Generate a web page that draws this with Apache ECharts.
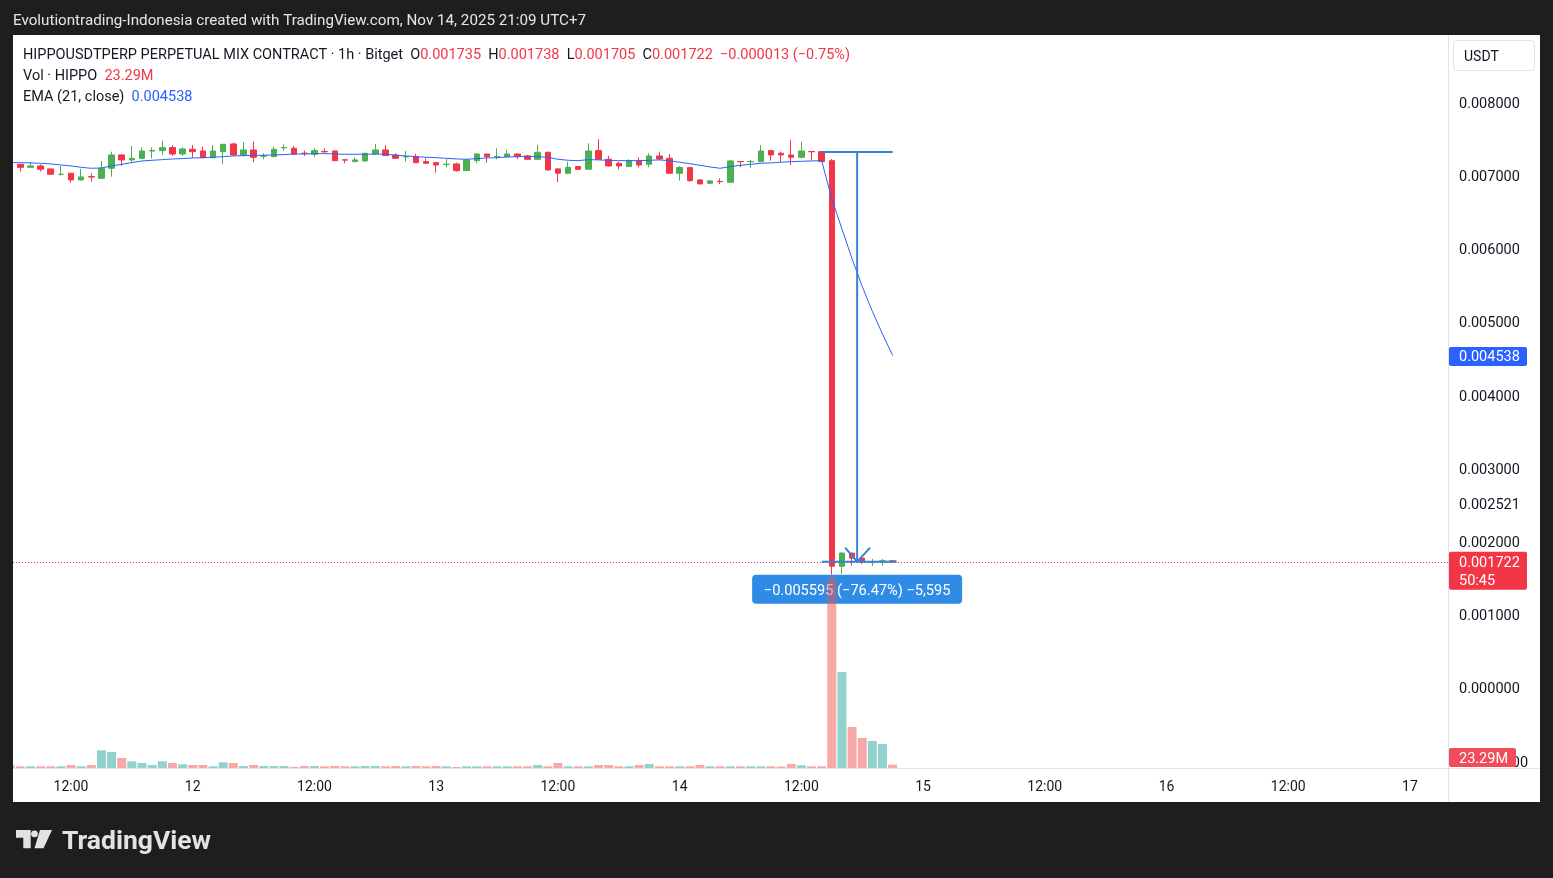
<!DOCTYPE html>
<html><head><meta charset="utf-8">
<script src="https://cdn.jsdelivr.net/npm/echarts@6/dist/echarts.min.js"></script>
<style>
html,body{margin:0;padding:0;background:#1e1e1e;overflow:hidden;}
#panel{position:absolute;left:13px;top:35px;width:1527px;height:767px;background:#ffffff;}
#c{position:absolute;left:0;top:0;width:1553px;height:878px;}
#edge{position:absolute;left:0;top:35px;width:13px;height:767px;background:#1e1e1e;}
</style>
</head><body><div id="panel"></div><div id="c"></div><div id="edge"></div>
<script>
// ---- DATA ----
const times = [
 '2025-11-11 06:00','2025-11-11 07:00','2025-11-11 08:00','2025-11-11 09:00','2025-11-11 10:00','2025-11-11 11:00',
 '2025-11-11 12:00','2025-11-11 13:00','2025-11-11 14:00','2025-11-11 15:00','2025-11-11 16:00','2025-11-11 17:00',
 '2025-11-11 18:00','2025-11-11 19:00','2025-11-11 20:00','2025-11-11 21:00','2025-11-11 22:00','2025-11-11 23:00',
 '2025-11-12 00:00','2025-11-12 01:00','2025-11-12 02:00','2025-11-12 03:00','2025-11-12 04:00','2025-11-12 05:00',
 '2025-11-12 06:00','2025-11-12 07:00','2025-11-12 08:00','2025-11-12 09:00','2025-11-12 10:00','2025-11-12 11:00',
 '2025-11-12 12:00','2025-11-12 13:00','2025-11-12 14:00','2025-11-12 15:00','2025-11-12 16:00','2025-11-12 17:00',
 '2025-11-12 18:00','2025-11-12 19:00','2025-11-12 20:00','2025-11-12 21:00','2025-11-12 22:00','2025-11-12 23:00',
 '2025-11-13 00:00','2025-11-13 01:00','2025-11-13 02:00','2025-11-13 03:00','2025-11-13 04:00','2025-11-13 05:00',
 '2025-11-13 06:00','2025-11-13 07:00','2025-11-13 08:00','2025-11-13 09:00','2025-11-13 10:00','2025-11-13 11:00',
 '2025-11-13 12:00','2025-11-13 13:00','2025-11-13 14:00','2025-11-13 15:00','2025-11-13 16:00','2025-11-13 17:00',
 '2025-11-13 18:00','2025-11-13 19:00','2025-11-13 20:00','2025-11-13 21:00','2025-11-13 22:00','2025-11-13 23:00',
 '2025-11-14 00:00','2025-11-14 01:00','2025-11-14 02:00','2025-11-14 03:00','2025-11-14 04:00','2025-11-14 05:00',
 '2025-11-14 06:00','2025-11-14 07:00','2025-11-14 08:00','2025-11-14 09:00','2025-11-14 10:00','2025-11-14 11:00',
 '2025-11-14 12:00','2025-11-14 13:00','2025-11-14 14:00','2025-11-14 15:00','2025-11-14 16:00','2025-11-14 17:00',
 '2025-11-14 18:00','2025-11-14 19:00','2025-11-14 20:00','2025-11-14 21:00'
];
// [open, high, low, close]
const ohlc = [
 // Nov 11
 [0.007165,0.007180,0.007120,0.007145],[0.007149,0.007158,0.007049,0.007108],[0.007108,0.007177,0.007095,0.007127],
 [0.007127,0.007149,0.007049,0.007081],[0.007086,0.007090,0.007010,0.007013],[0.007010,0.007127,0.006995,0.007013],
 [0.007027,0.007030,0.006899,0.006936],[0.006936,0.007086,0.006926,0.006977],[0.006981,0.007027,0.006913,0.006975],
 [0.006958,0.007195,0.006955,0.007095],[0.007095,0.007322,0.006981,0.007277],[0.007277,0.007286,0.007127,0.007209],
 [0.007209,0.007400,0.007177,0.007231],[0.007231,0.007381,0.007222,0.007331],[0.007331,0.007381,0.007231,0.007336],
 [0.007336,0.007472,0.007277,0.007377],[0.007377,0.007413,0.007263,0.007290],[0.007290,0.007381,0.007263,0.007359],
 // Nov 12
 [0.007354,0.007413,0.007240,0.007322],[0.007331,0.007390,0.007231,0.007240],[0.007240,0.007413,0.007231,0.007331],
 [0.007322,0.007427,0.007149,0.007422],[0.007427,0.007445,0.007263,0.007277],[0.007277,0.007450,0.007254,0.007345],
 [0.007345,0.007459,0.007177,0.007245],[0.007260,0.007300,0.007218,0.007263],[0.007254,0.007390,0.007245,0.007354],
 [0.007375,0.007422,0.007336,0.007377],[0.007368,0.007400,0.007277,0.007290],[0.007300,0.007336,0.007263,0.007298],
 [0.007286,0.007368,0.007245,0.007336],[0.007325,0.007368,0.007300,0.007320],[0.007331,0.007336,0.007195,0.007199],
 [0.007210,0.007222,0.007163,0.007207],[0.007186,0.007245,0.007177,0.007209],[0.007195,0.007300,0.007186,0.007300],
 [0.007290,0.007427,0.007277,0.007345],[0.007345,0.007413,0.007268,0.007268],[0.007277,0.007300,0.007222,0.007231],
 [0.007250,0.007331,0.007186,0.007254],[0.007254,0.007290,0.007172,0.007172],[0.007186,0.007231,0.007154,0.007163],
 // Nov 13
 [0.007172,0.007172,0.007036,0.007140],[0.007147,0.007222,0.007108,0.007150],[0.007154,0.007172,0.007049,0.007063],
 [0.007063,0.007218,0.007063,0.007209],[0.007199,0.007300,0.007163,0.007290],[0.007290,0.007290,0.007172,0.007254],
 [0.007252,0.007368,0.007218,0.007256],[0.007254,0.007345,0.007245,0.007290],[0.007290,0.007300,0.007218,0.007254],
 [0.007263,0.007277,0.007209,0.007218],[0.007218,0.007413,0.007209,0.007313],[0.007313,0.007322,0.007063,0.007072],
 [0.007086,0.007095,0.006904,0.007027],[0.007027,0.007186,0.007013,0.007108],[0.007118,0.007127,0.007072,0.007081],
 [0.007081,0.007436,0.007081,0.007331],[0.007336,0.007491,0.007218,0.007218],[0.007218,0.007263,0.007118,0.007127],
 [0.007163,0.007186,0.007081,0.007127],[0.007118,0.007218,0.007118,0.007199],[0.007195,0.007245,0.007108,0.007140],
 [0.007149,0.007300,0.007108,0.007263],[0.007263,0.007322,0.007209,0.007222],[0.007231,0.007290,0.007027,0.007027],
 // Nov 14
 [0.007027,0.007127,0.006926,0.007104],[0.007104,0.007108,0.006913,0.006926],[0.006936,0.006945,0.006881,0.006881],
 [0.006890,0.006936,0.006881,0.006922],[0.006915,0.006958,0.006881,0.006911],[0.006904,0.007209,0.006904,0.007195],
 [0.007188,0.007188,0.007108,0.007184],[0.007184,0.007209,0.007095,0.007188],[0.007186,0.007413,0.007177,0.007331],
 [0.007336,0.007345,0.007199,0.007277],[0.007300,0.007322,0.007177,0.007277],[0.007277,0.007481,0.007140,0.007245],
 [0.007245,0.007459,0.007231,0.007331],[0.007324,0.007324,0.007199,0.007320],[0.007322,0.007322,0.007186,0.007186],
 [0.007199,0.007220,0.001545,0.001660],[0.001660,0.001850,0.001556,0.001839],[0.001839,0.001845,0.001666,0.001771],
 [0.001771,0.001780,0.001689,0.001716],[0.001716,0.001760,0.001660,0.001722],[0.001720,0.001760,0.001665,0.001735],
 [0.001735,0.001738,0.001705,0.001722]
];
// volume, millions of HIPPO
const volume = [
 19,12,12,12,12,12,21,12,21,124,112,70,47,35,21,47,35,26,
 21,21,12,40,35,14,21,14,14,14,7,14,14,12,14,12,12,14,14,12,14,12,14,12,
 14,12,7,12,12,12,12,12,12,12,21,12,35,12,12,12,21,21,12,12,21,28,12,12,
 12,12,21,12,12,12,12,12,12,12,10,28,19,12,12,1330,672,287,210,189,168,23.29
];
// EMA(21, close)
const ema = [
 0.007172,0.007172,0.007168,0.007163,0.007154,0.007140,0.007127,0.007108,0.007095,0.007099,0.007127,0.007149,
 0.007172,0.007195,0.007204,0.007213,0.007222,0.007227,
 0.007236,0.007240,0.007245,0.007254,0.007263,0.007268,0.007272,0.007272,0.007277,0.007281,0.007290,0.007290,
 0.007295,0.007295,0.007290,0.007286,0.007286,0.007286,0.007290,0.007286,0.007272,0.007263,0.007254,0.007245,
 0.007240,0.007231,0.007222,0.007218,0.007227,0.007236,0.007240,0.007249,0.007254,0.007259,0.007254,0.007245,
 0.007218,0.007204,0.007199,0.007213,0.007209,0.007204,0.007199,0.007199,0.007199,0.007204,0.007209,0.007199,
 0.007177,0.007158,0.007136,0.007113,0.007095,0.007118,0.007136,0.007149,0.007163,0.007168,0.007177,0.007186,
 0.007190,0.007195,0.007199,0.006680,0.006267,0.005858,0.005482,0.005141,0.004831,0.004538
];
const priceTicks = [-0.001,0,0.001,0.002,0.003,0.004,0.005,0.006,0.007,0.008];
const extraPriceLabels = [0.002521];
const timeTickValues = [12,24,36,48,60,72,84,96,108,120,132,144];
const timeTickLabels = ['12:00','12','12:00','13','12:00','14','12:00','15','12:00','16','12:00','17'];
const measureFrom = '2025-11-14 14:00';
const measureTo = '2025-11-14 21:00';
const measureTop = 0.007317;
const measureBottom = 0.001722;
const measureText = '−0.005595 (−76.47%) −5,595';
const countdown = '50:45';

// ---- helpers ----
function hoursOf(t){ const d=+t.slice(8,10), h=+t.slice(11,13); return (d-11)*24+h; }
const xs = times.map(hoursOf);
const X_MIN = 6.28, X_MAX = 147.75;
const UP='#4caf50', DOWN='#f23645';
const VUP='rgba(38,166,154,0.5)', VDOWN='rgba(239,83,80,0.5)';
const FONT='Roboto, "Noto Sans", sans-serif';
const fmtP = v => (v<0?'−':'') + Math.abs(v).toFixed(6);

const candleData = ohlc.map((r,i)=>[xs[i], r[0], r[3], r[2], r[1]]);
const volData = volume.map((v,i)=>({value:[xs[i], v], itemStyle:{color: ohlc[i][3] >= ohlc[i][0] ? VUP : VDOWN}}));
const emaData = ema.map((v,i)=>[xs[i], v]);
const last = ohlc[ohlc.length-1];

const chart = echarts.init(document.getElementById('c'), null, {renderer:'canvas'});
chart.setOption({
  animation:false,
  backgroundColor:'transparent',
  grid:[
    {left:13, right:105, top:102, bottom:117},
    {left:13, right:105, top:568, bottom:110}
  ],
  xAxis:[
    {type:'value', gridIndex:0, min:X_MIN, max:X_MAX, show:false},
    {type:'value', gridIndex:1, min:X_MIN, max:X_MAX,
     axisLine:{show:false}, axisTick:{show:false}, splitLine:{show:false},
     axisLabel:{customValues:timeTickValues, margin:12, color:'#131722', fontSize:14, fontFamily:FONT,
       formatter:v=>{const k=timeTickValues.indexOf(Math.round(v)); return k>=0?timeTickLabels[k]:'';}}}
  ],
  yAxis:[
    {type:'value', gridIndex:0, position:'right', min:-0.001, max:0.008,
     axisLine:{show:false}, axisTick:{show:false}, splitLine:{show:false},
     axisLabel:{customValues:priceTicks.concat(extraPriceLabels), align:'left', margin:11, color:'#131722',
       fontSize:14.5, fontFamily:FONT, formatter:v=>'{a|'+fmtP(v)+'}',
       rich:{a:{fontSize:14.5, fontFamily:FONT, color:'#131722', padding:[4,0,0,0]}}}},
    {type:'value', gridIndex:1, min:0, max:1400, show:false}
  ],
  series:[
    {type:'bar', name:'Vol', xAxisIndex:1, yAxisIndex:1, data:volData, barWidth:9, z:3, clip:true},
    {type:'candlestick', name:'HIPPO', xAxisIndex:0, yAxisIndex:0, data:candleData,
     encode:{x:0, y:[1,2,3,4]}, barWidth:6, z:4, clip:true,
     itemStyle:{color:UP, color0:DOWN, borderColor:UP, borderColor0:DOWN, borderWidth:1}},
    {type:'line', name:'EMA', xAxisIndex:0, yAxisIndex:0, data:emaData, symbol:'none', clip:true,
     lineStyle:{color:'#2962ff', width:1}, z:5}
  ]
});

function px(x,y){ return chart.convertToPixel({gridIndex:0},[x,y]); }
const gLeft=13, gRight=1448, paneBottom=768;
const g = [];
// separators
g.push({type:'line', shape:{x1:gRight+0.5,y1:35,x2:gRight+0.5,y2:802}, style:{stroke:'#e0e3eb',lineWidth:1}, z:50});
g.push({type:'line', shape:{x1:13,y1:paneBottom+0.5,x2:1540,y2:paneBottom+0.5}, style:{stroke:'#e0e3eb',lineWidth:1}, z:50});
// current price dotted line
const yC = px(X_MAX, last[3])[1];
g.push({type:'line', shape:{x1:gLeft,y1:Math.round(yC)+0.5,x2:gRight,y2:Math.round(yC)+0.5}, style:{stroke:DOWN,lineWidth:1,lineDash:[1,2]}, z:10});
// header
g.push({type:'text', style:{x:13,y:21,text:'Evolutiontrading-Indonesia created with TradingView.com, Nov 14, 2025 21:09 UTC+7',
  fill:'#e6e6e6', font:'15.2px '+FONT, verticalAlign:'middle'}, z:60});
// legend lines
const LF='14.5px '+FONT;
const SP='  ';
g.push({type:'text', style:{x:23,y:55,verticalAlign:'middle', font:LF, fill:'#131722',
  text:'{b|HIPPOUSDTPERP PERPETUAL MIX CONTRACT · 1h · Bitget}'+SP+'{b|O}{r|'+last[0].toFixed(6)+'}'+SP+'{b|H}{r|'+last[1].toFixed(6)+
       '}'+SP+'{b|L}{r|'+last[2].toFixed(6)+'}'+SP+'{b|C}{r|'+last[3].toFixed(6)+'}'+SP+'{r|−0.000013 (−0.75%)}',
  rich:{b:{fill:'#131722',font:LF}, r:{fill:DOWN,font:LF}}}, z:60});
g.push({type:'text', style:{x:23,y:76,verticalAlign:'middle', font:LF,
  text:'{b|Vol · HIPPO}  {r|'+volume[volume.length-1].toFixed(2)+'M}',
  rich:{b:{fill:'#131722',font:LF}, r:{fill:DOWN,font:LF}}}, z:60});
g.push({type:'text', style:{x:23,y:97,verticalAlign:'middle', font:LF,
  text:'{b|EMA (21, close)}  {r|'+ema[ema.length-1].toFixed(6)+'}',
  rich:{b:{fill:'#131722',font:LF}, r:{fill:'#2962ff',font:LF}}}, z:60});
// USDT box
g.push({type:'rect', shape:{x:1453.5,y:40.5,width:81,height:30,r:4}, style:{fill:'#fff',stroke:'#e0e3eb',lineWidth:1}, z:60});
g.push({type:'text', style:{x:1464,y:57,text:'USDT',fill:'#131722',font:'14px '+FONT,verticalAlign:'middle'}, z:61});

const LBL='14.5px '+FONT;
// EMA value label
const yEma = px(X_MAX, ema[ema.length-1])[1];
g.push({type:'rect', shape:{x:1449,y:yEma-8.5,width:78,height:19,r:2}, style:{fill:'#2962ff'}, z:70});
g.push({type:'text', style:{x:1459,y:yEma+2,text:fmtP(ema[ema.length-1]),fill:'#fff',font:LBL,verticalAlign:'middle'}, z:71});
// current price label
g.push({type:'rect', shape:{x:1449,y:yC-10,width:78,height:38,r:2}, style:{fill:DOWN}, z:70});
g.push({type:'text', style:{x:1459,y:yC+2,text:fmtP(last[3]),fill:'#fff',font:LBL,verticalAlign:'middle'}, z:71});
g.push({type:'text', style:{x:1459,y:yC+20,text:countdown,fill:'#fff',font:LBL,verticalAlign:'middle'}, z:71});
// volume label
let yV = chart.convertToPixel({gridIndex:1},[X_MAX, volume[volume.length-1]])[1];
yV = Math.min(yV, paneBottom-10.5);
g.push({type:'rect', shape:{x:1449,y:yV-9.5,width:67,height:19,r:2}, style:{fill:'#f04c5a'}, z:70});
g.push({type:'text', style:{x:1459,y:yV+2,text:volume[volume.length-1].toFixed(2)+'M',fill:'#fff',font:LBL,verticalAlign:'middle'}, z:71});

// measurement tool
const mx1 = hoursOf(measureFrom), mx2 = hoursOf(measureTo), mxm = (mx1+mx2)/2;
const pTL = px(mx1, measureTop), pTR = px(mx2, measureTop), pBL = px(mx1, measureBottom), pBR = px(mx2+0.4, measureBottom);
const pMT = px(mxm, measureTop), pMB = px(mxm, measureBottom);
const MC = '#3483d6';
g.push({type:'line', shape:{x1:pTL[0],y1:pTL[1],x2:pTR[0],y2:pTR[1]}, style:{stroke:MC,lineWidth:2}, z:20});
g.push({type:'line', shape:{x1:pBL[0],y1:pBL[1],x2:pBR[0],y2:pBR[1]}, style:{stroke:MC,lineWidth:2}, z:20});
g.push({type:'line', shape:{x1:pMT[0],y1:pMT[1],x2:pMB[0],y2:pMB[1]}, style:{stroke:MC,lineWidth:2}, z:20});
g.push({type:'polyline', shape:{points:[[pMB[0]-12,pMB[1]-14],[pMB[0],pMB[1]],[pMB[0]+13,pMB[1]-14]]}, style:{stroke:MC,lineWidth:2,fill:null}, z:20});
g.push({type:'rect', shape:{x:pMB[0]-105,y:pMB[1]+13,width:210,height:29,r:4}, style:{fill:'#2f8be6'}, z:1});
g.push({type:'text', style:{x:pMB[0],y:pMB[1]+29.5,text:measureText,fill:'#fff',font:'14.6px '+FONT,align:'center',verticalAlign:'middle'}, z:1});

// TradingView logo
g.push({type:'polygon', shape:{points:[[16,830],[30.7,830],[30.7,848.3],[23.3,848.3],[23.3,837.7],[16,837.7]]}, style:{fill:'#e3e3e3'}, z:60});
g.push({type:'circle', shape:{cx:34.5,cy:833.8,r:3.4}, style:{fill:'#e3e3e3'}, z:60});
g.push({type:'polygon', shape:{points:[[40,830],[52,830],[43.5,848.3],[34.5,848.3]]}, style:{fill:'#e3e3e3'}, z:60});
g.push({type:'text', style:{x:62,y:842,text:'TradingView',fill:'#e3e3e3',font:'bold 26.5px '+FONT,verticalAlign:'middle'}, z:60});

chart.setOption({graphic:{elements:g}});
</script>
</body></html>
